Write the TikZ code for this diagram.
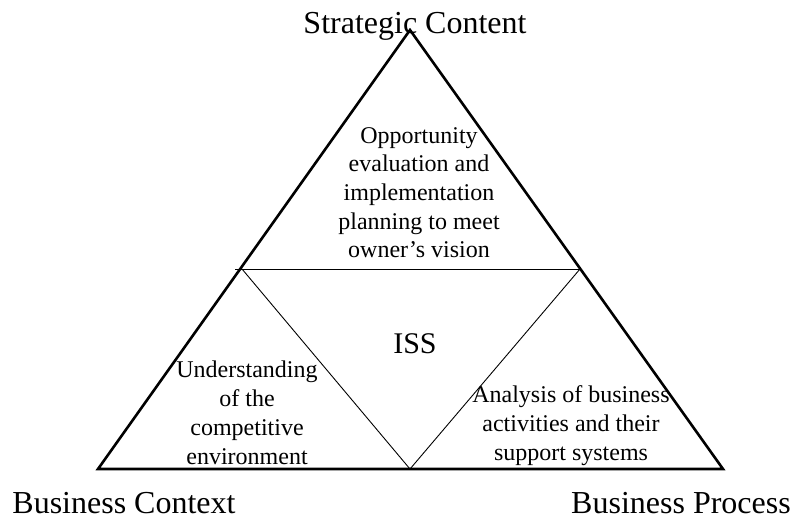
\documentclass[tikz,border=0pt]{standalone}
\usepackage{fontspec}
\setmainfont{Liberation Serif}
\begin{document}
\begin{tikzpicture}[x=1pt,y=-1pt,
  outer/.style={line width=2.6pt, line join=miter},
  inner/.style={line width=0.9pt},
  corner/.style={font=\fontsize{32}{38}\selectfont, anchor=base, inner sep=0pt},
  zone/.style={font=\fontsize{24}{28.7}\selectfont, align=center, anchor=base, inner sep=0pt},
  core/.style={font=\fontsize{30}{36}\selectfont, anchor=base, inner sep=0pt}]
\useasboundingbox (0,0) rectangle (794,520);
\coordinate (apex) at (410,30);
\coordinate (bl) at (98,469);
\coordinate (br) at (723,469);
\coordinate (ml) at (242,269);
\coordinate (mlx) at (235,269);
\coordinate (mr) at (580,269);
\coordinate (mb) at (410,469);
\draw[inner] (mlx) -- (mr);
\draw[inner] (ml) -- (mb) -- (mr);
\draw[outer] (apex) -- (br) -- (bl) -- cycle;
\node[corner] (sc) at (415,33) {Strategic Content};
\node[corner] (bc) at (124,513) {Business Context};
\node[corner] (bp) at (681,513) {Business Process};
\node[core] (iss) at (415,353) {ISS};
\node[zone] (top) at (419,257.8) {Opportunity\\evaluation and\\implementation\\planning to meet\\owner’s vision};
\node[zone] (left) at (247,464) {Understanding\\of the\\competitive\\environment};
\node[zone] (right) at (571,460) {Analysis of business\\activities and their\\support systems};
\end{tikzpicture}
\end{document}
